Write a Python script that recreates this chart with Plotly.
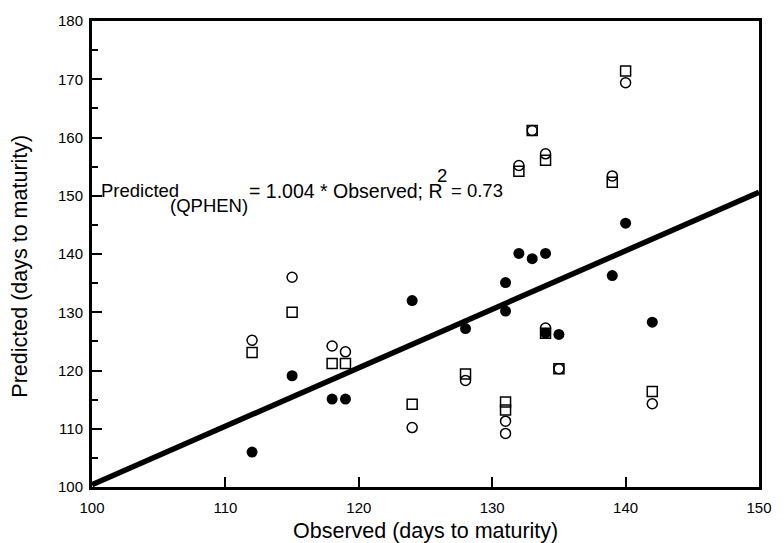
import plotly.graph_objects as go

# ---------------- data ----------------
filled_obs = [112, 115, 118, 119, 124, 128, 131, 131, 132, 133, 134, 134, 135, 139, 140, 142]
filled_pred = [106.0, 119.1, 115.1, 115.1, 132.0, 127.2, 135.1, 130.2, 140.1, 139.2, 140.1, 126.4, 126.2, 136.3, 145.3, 128.3]

circ_obs = [112, 115, 118, 119, 124, 128, 131, 131, 132, 133, 134, 134, 135, 139, 140, 142]
circ_pred = [125.2, 136.0, 124.2, 123.2, 110.2, 118.3, 111.3, 109.2, 155.2, 161.2, 157.2, 127.3, 120.3, 153.4, 169.4, 114.3]

sq_obs = [112, 115, 118, 119, 124, 128, 131, 131, 132, 133, 134, 134, 135, 139, 140, 142]
sq_pred = [123.1, 130.0, 121.2, 121.2, 114.2, 119.4, 114.6, 113.2, 154.2, 161.2, 156.1, 126.4, 120.3, 152.3, 171.4, 116.4]

fit_slope = 1.004
fit_x = [100, 150]
fit_y = [fit_slope * v for v in fit_x]

x_ticks = [100, 110, 120, 130, 140, 150]
y_ticks = [100, 110, 120, 130, 140, 150, 160, 170, 180]

FONT = "Liberation Sans, Arial, sans-serif"

# plot area in pixels (for annotation placement)
L, R, T, B = 92, 770, 20, 487
W, H = 784, 543
def PX(px):
    return (px - L) / (R - L)
def PY(py):
    return (B - py) / (B - T)

fig = go.Figure()
fig.add_trace(go.Scatter(x=fit_x, y=fit_y, mode="lines",
                         line=dict(color="black", width=5.5), showlegend=False, hoverinfo="skip"))
fig.add_trace(go.Scatter(x=filled_obs, y=filled_pred, mode="markers",
                         marker=dict(symbol="circle", size=11, color="black", line=dict(width=0)),
                         showlegend=False))
fig.add_trace(go.Scatter(x=sq_obs, y=sq_pred, mode="markers",
                         marker=dict(symbol="square-open", size=10, color="black", line=dict(width=1.5)),
                         showlegend=False))
fig.add_trace(go.Scatter(x=circ_obs, y=circ_pred, mode="markers",
                         marker=dict(symbol="circle-open", size=10, color="black", line=dict(width=1.5)),
                         showlegend=False))

fig.update_xaxes(range=[100, 150], tickvals=x_ticks, ticktext=[str(v) for v in x_ticks],
                 ticks="inside", ticklen=10, tickwidth=1.5, tickcolor="black",
                 showline=True, linewidth=3, linecolor="black", mirror=True,
                 showgrid=False, zeroline=False,
                 tickfont=dict(family=FONT, size=15, color="black"), ticklabelstandoff=5)
fig.update_yaxes(range=[100, 180], tickvals=y_ticks, ticktext=[str(v) for v in y_ticks],
                 ticks="inside", ticklen=10, tickwidth=1.5, tickcolor="black",
                 minor=dict(dtick=5, tick0=100, ticks="inside", ticklen=6, tickwidth=1.5, tickcolor="black"),
                 showline=True, linewidth=3, linecolor="black", mirror=True,
                 showgrid=False, zeroline=False,
                 tickfont=dict(family=FONT, size=15, color="black"), ticklabelstandoff=3)

ann = []
def txt(s, px, py, size=18.5, anchor="left", angle=0):
    ann.append(dict(text=s, x=PX(px), y=PY(py), xref="paper", yref="paper",
                    xanchor=anchor, yanchor="middle", showarrow=False, textangle=angle,
                    font=dict(family=FONT, size=size, color="black")))

txt("Predicted", 99, 190)
txt("(QPHEN)", 169, 205)
txt("= 1.004 * Observed; R", 250, 190, size=19.5)
txt("2", 441, 175)
txt("= 0.73", 455, 190)
txt("Observed (days to maturity)", 431, 531, size=21.5, anchor="center")
txt("Predicted (days to maturity)", 19, 266, size=21.5, anchor="center", angle=-90)

fig.update_layout(width=W, height=H, margin=dict(l=L, r=W - R, t=T, b=H - B, pad=0),
                  plot_bgcolor="white", paper_bgcolor="white", annotations=ann,
                  font=dict(family=FONT, color="black"))

fig.write_html("out.html")
